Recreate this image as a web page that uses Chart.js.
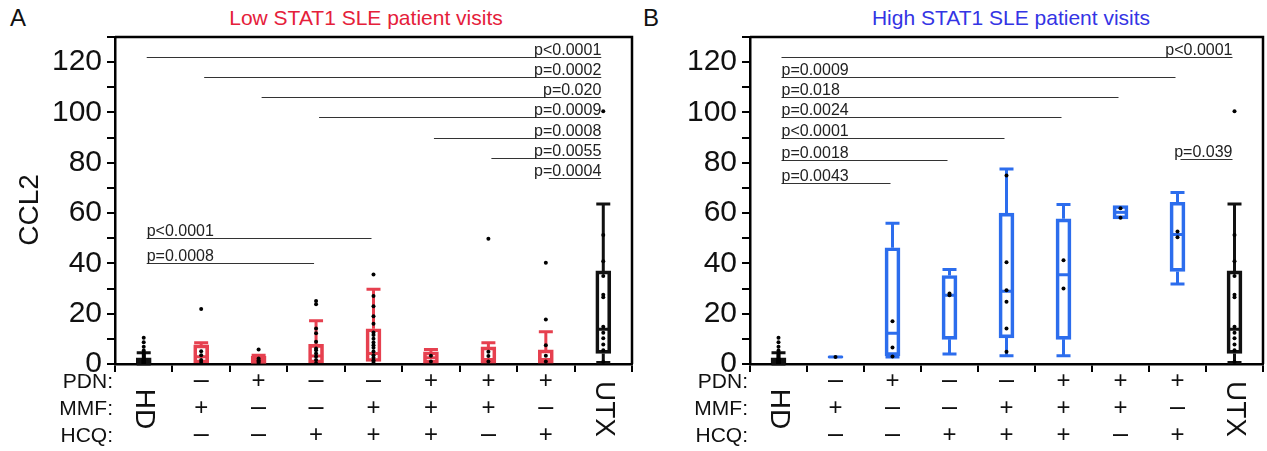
<!DOCTYPE html>
<html>
<head>
<meta charset="utf-8">
<script src="https://cdn.jsdelivr.net/npm/chart.js@4.4.1/dist/chart.umd.min.js"></script>
<style>
  html, body { margin: 0; padding: 0; background: #fff; }
  body { width: 1267px; height: 451px; position: relative; overflow: hidden;
         font-family: "Liberation Sans", Arial, sans-serif; color: #111; }
  canvas { position: absolute; top: 0; }
  #chartA { left: 0; }
  #chartB { left: 634px; }
  .letter { position: absolute; top: 4px; font-size: 24px; }
  .title { position: absolute; top: 6px; font-size: 21px; white-space: nowrap; transform: translateX(-50%); }
</style>
</head>
<body>
<div class="letter" style="left:10px">A</div>
<div class="title" style="left:366px;color:#e5203a">Low STAT1 SLE patient visits</div>
<div class="letter" style="left:643px">B</div>
<div class="title" style="left:1011px;color:#3434e4">High STAT1 SLE patient visits</div>
<canvas id="chartA" width="640" height="451"></canvas>
<canvas id="chartB" width="633" height="451"></canvas>
<script>
// categories and treatment table (same for both panels)
const categories = ['HD', 'MMF', 'PDN', 'HCQ', 'MMF+HCQ', 'PDN+MMF+HCQ', 'PDN+MMF', 'PDN+HCQ', 'UTX'];
const pdnRow = ['', '–', '+', '–', '–', '+', '+', '+', ''];
const mmfRow = ['', '+', '–', '–', '+', '+', '+', '–', ''];
const hcqRow = ['', '–', '–', '+', '+', '+', '–', '+', ''];
const yMax = 130;

// healthy donors and untreated patients are shared by both panels
const hdPoints = [0.1, 0.3, 0.5, 0.7, 0.9, 1.1, 1.3, 1.5, 1.7, 1.9, 2.1, 2.4, 2.8, 3.2, 3.6, 4.0, 4.6, 5.4, 6.9, 8.6, 10.4];
const utxPoints = [0.8, 5.5, 7.8, 10.2, 12.4, 14.8, 26.5, 27.5, 35.0, 40.8, 51.3, 100.5];

// Panel A – low STAT1 (q1 / median / q3 / whisker low / whisker high)
const q1A  = [0.4, 0.4, 0.2, 0.4, 1.0, 0.3, 0.3, 0.3, 4.2];
const medA = [1.2, 2.9, 1.0, 3.2, 4.2, 2.5, 1.8, 1.8, 13.8];
const q3A  = [2.5, 7.6, 3.0, 7.8, 14.0, 4.8, 6.8, 5.6, 37.0];
const loA  = [0.0, 0.4, 0.2, 0.4, 1.0, 0.3, 0.3, 0.3, 0.6];
const hiA  = [4.5, 8.4, 3.5, 17.2, 29.7, 5.8, 8.4, 12.8, 63.6];
const pointsA = [
  hdPoints,
  [0.8, 1.6, 3.5, 5.1, 21.9],
  [0.5, 1.0, 1.5, 2.2, 5.8],
  [0.3, 1.6, 3.0, 4.2, 5.5, 6.2, 8.8, 12.2, 14.1, 23.8, 25.0],
  [0.8, 1.5, 2.5, 3.5, 5.0, 6.5, 7.5, 8.5, 10.0, 11.5, 12.5, 16.0, 19.0, 23.0, 27.0, 35.6],
  [1.0, 3.3],
  [1.0, 3.2, 4.9, 49.8],
  [1.0, 3.3, 7.5, 17.7, 40.3],
  utxPoints
];
const sigFromA = [0, 1, 2, 3, 5, 6, 7, 0, 0];
const sigToA   = [8, 8, 8, 8, 8, 8, 8, 4, 3];
const sigYA    = [122, 114, 106, 98, 90, 82, 74, 50, 40];
const sigTextA = ['p<0.0001', 'p=0.0002', 'p=0.020', 'p=0.0009', 'p=0.0008', 'p=0.0055', 'p=0.0004', 'p<0.0001', 'p=0.0008'];
const sigSideA = ['right', 'right', 'right', 'right', 'right', 'right', 'right', 'left', 'left'];

// Panel B – high STAT1
const q1B  = [0.4, 2.5, 3.3, 9.8, 10.4, 9.8, 57.7, 36.8, 4.2];
const medB = [1.2, 2.8, 12.2, 27.3, 28.9, 35.5, 60.3, 51.5, 13.8];
const q3B  = [2.5, 3.0, 46.2, 35.2, 60.0, 57.7, 63.0, 64.3, 37.0];
const loB  = [0.0, 2.5, 2.8, 4.0, 3.3, 3.3, 57.7, 31.8, 0.6];
const hiB  = [4.5, 3.0, 56.0, 37.6, 77.5, 63.4, 63.0, 68.2, 63.6];
const pointsB = [
  hdPoints,
  [2.8],
  [3.0, 6.6, 17.0],
  [27.3, 28.0],
  [4.9, 14.1, 24.7, 29.3, 40.5, 74.9],
  [30.0, 41.2],
  [58.1, 61.9],
  [50.4, 52.7],
  utxPoints
];
const sigFromB = [0, 0, 0, 0, 0, 0, 0, 7];
const sigToB   = [8, 7, 6, 5, 4, 3, 2, 8];
const sigYB    = [122, 114, 106, 98, 90, 81, 72, 81.5];
const sigTextB = ['p<0.0001', 'p=0.0009', 'p=0.018', 'p=0.0024', 'p<0.0001', 'p=0.0018', 'p=0.0043', 'p=0.039'];
const sigSideB = ['right', 'left', 'left', 'left', 'left', 'left', 'left', 'right'];

const FONT = '"Liberation Sans", Arial, sans-serif';
const RED = '#e6404f';
const BLUE = '#2c6ded';
const BLACK = '#111';

/** Whiskers, medians, frame, p-value bars and treatment table */
function boxPlugin(p) {
  return {
    id: 'box' + p.name,
    beforeDatasetsDraw(chart) {
      const { ctx, scales: { x, y } } = chart;
      ctx.save();
      ctx.lineWidth = 3;
      categories.forEach((c, i) => {
        const cx = x.getPixelForValue(i);
        const half = 7;
        ctx.strokeStyle = p.colors[i];
        ctx.beginPath();
        if (p.hi[i] > p.q3[i]) {
          ctx.moveTo(cx, y.getPixelForValue(p.q3[i]));
          ctx.lineTo(cx, y.getPixelForValue(p.hi[i]));
          ctx.moveTo(cx - half, y.getPixelForValue(p.hi[i]));
          ctx.lineTo(cx + half, y.getPixelForValue(p.hi[i]));
        }
        if (p.lo[i] < p.q1[i]) {
          ctx.moveTo(cx, y.getPixelForValue(p.q1[i]));
          ctx.lineTo(cx, y.getPixelForValue(p.lo[i]));
          ctx.moveTo(cx - half, y.getPixelForValue(p.lo[i]));
          ctx.lineTo(cx + half, y.getPixelForValue(p.lo[i]));
        }
        ctx.moveTo(cx - half, y.getPixelForValue(p.med[i]));
        ctx.lineTo(cx + half, y.getPixelForValue(p.med[i]));
        ctx.stroke();
      });
      ctx.restore();
    },
    afterDraw(chart) {
      const { ctx, chartArea: a, scales: { x, y } } = chart;
      ctx.save();
      // frame top + right
      ctx.strokeStyle = '#000';
      ctx.lineWidth = 2.5;
      ctx.beginPath();
      ctx.moveTo(a.left, a.top);
      ctx.lineTo(a.right, a.top);
      ctx.lineTo(a.right, a.bottom);
      ctx.stroke();

      // significance bars
      ctx.lineWidth = 1.2;
      ctx.strokeStyle = '#333';
      ctx.fillStyle = '#222';
      ctx.font = '16px ' + FONT;
      ctx.textBaseline = 'alphabetic';
      p.sigY.forEach((v, k) => {
        const x0 = x.getPixelForValue(p.sigFrom[k]) + 3;
        const x1 = x.getPixelForValue(p.sigTo[k]) - 2;
        const py = Math.round(y.getPixelForValue(v)) + 0.5;
        ctx.beginPath();
        ctx.moveTo(x0, py);
        ctx.lineTo(x1, py);
        ctx.stroke();
        if (p.sigSide[k] === 'right') {
          ctx.textAlign = 'right';
          ctx.fillText(p.sigText[k], x1, py - 3);
        } else {
          ctx.textAlign = 'left';
          ctx.fillText(p.sigText[k], x0, py - 3);
        }
      });

      // y axis title
      if (p.yTitle) {
        ctx.save();
        ctx.translate(30, 210);
        ctx.rotate(-Math.PI / 2);
        ctx.textAlign = 'center';
        ctx.textBaseline = 'middle';
        ctx.fillStyle = BLACK;
        ctx.font = '28px ' + FONT;
        ctx.fillText(p.yTitle, 0, 0);
        ctx.restore();
      }

      // treatment table
      const rows = [['PDN:', pdnRow, 382], ['MMF:', mmfRow, 409], ['HCQ:', hcqRow, 436]];
      ctx.fillStyle = BLACK;
      ctx.textBaseline = 'middle';
      rows.forEach(([label, signs, ty]) => {
        ctx.font = '21px ' + FONT;
        ctx.textAlign = 'right';
        ctx.fillText(label, a.left - 2, ty);
        ctx.textAlign = 'center';
        signs.forEach((s, i) => {
          if (!s) return;
          ctx.font = (s === '+' ? '24px ' : '27px ') + FONT;
          ctx.fillText(s, x.getPixelForValue(i), ty - 1);
        });
      });
      [0, categories.length - 1].forEach(i => {
        ctx.save();
        ctx.translate(x.getPixelForValue(i), 409);
        ctx.rotate(Math.PI / 2);
        ctx.textAlign = 'center';
        ctx.textBaseline = 'middle';
        ctx.font = '28px ' + FONT;
        ctx.fillText(categories[i], 0, 0);
        ctx.restore();
      });
      ctx.restore();
    }
  };
}

function makePanel(canvas, p) {
  return new Chart(canvas, {
    type: 'bar',
    data: {
      labels: categories,
      datasets: [
        {
          type: 'scatter',
          order: 0,
          data: p.points.flatMap((vals, i) => vals.map(v => ({ x: categories[i], y: v }))),
          pointRadius: 2,
          pointBackgroundColor: '#000',
          pointBorderWidth: 0,
        },
        {
          order: 1,
          data: p.q1.map((v, i) => [v, p.q3[i]]),
          backgroundColor: p.fills,
          borderColor: p.colors,
          borderWidth: 3,
          borderSkipped: false,
          barThickness: 15,
        },
      ],
    },
    options: {
      responsive: false,
      animation: false,
      layout: { padding: { left: 0, right: p.padRight, top: 37, bottom: 0 } },
      plugins: { legend: { display: false }, tooltip: { enabled: false } },
      scales: {
        x: {
          type: 'category',
          offset: true,
          afterFit: s => { s.height = 87; },
          grid: { offset: true, drawOnChartArea: false, drawTicks: true, tickLength: 8, color: '#000', lineWidth: 2 },
          border: { display: true, color: '#000', width: 2.5 },
          ticks: { display: false },
        },
        y: {
          min: 0,
          max: yMax,
          afterFit: s => { s.width = p.axisWidth; },
          grid: { drawOnChartArea: false, drawTicks: true, tickLength: 8, color: '#000', lineWidth: 2 },
          border: { display: true, color: '#000', width: 2.5 },
          ticks: {
            stepSize: 10,
            autoSkip: false,
            padding: 5,
            color: BLACK,
            font: { family: FONT, size: 30 },
            callback: v => (v % 20 === 0 && v <= 120 ? v : ''),
          },
        },
      },
    },
    plugins: [boxPlugin(p)],
  });
}

const colorsA = categories.map((c, i) => (i === 0 || i === 8 ? BLACK : RED));
const colorsB = categories.map((c, i) => (i === 0 || i === 8 ? BLACK : BLUE));
const fillsA = categories.map((c, i) => (i === 0 ? BLACK : i === 2 ? RED : 'rgba(255,255,255,0)'));
const fillsB = categories.map((c, i) => (i === 0 ? BLACK : 'rgba(255,255,255,0)'));

makePanel(document.getElementById('chartA'), {
  name: 'A', q1: q1A, med: medA, q3: q3A, lo: loA, hi: hiA, points: pointsA,
  sigFrom: sigFromA, sigTo: sigToA, sigY: sigYA, sigText: sigTextA, sigSide: sigSideA,
  colors: colorsA, fills: fillsA, padRight: 8, axisWidth: 115, yTitle: 'CCL2',
});
makePanel(document.getElementById('chartB'), {
  name: 'B', q1: q1B, med: medB, q3: q3B, lo: loB, hi: hiB, points: pointsB,
  sigFrom: sigFromB, sigTo: sigToB, sigY: sigYB, sigText: sigTextB, sigSide: sigSideB,
  colors: colorsB, fills: fillsB, padRight: 2, axisWidth: 116, yTitle: null,
});
</script>
</body>
</html>
